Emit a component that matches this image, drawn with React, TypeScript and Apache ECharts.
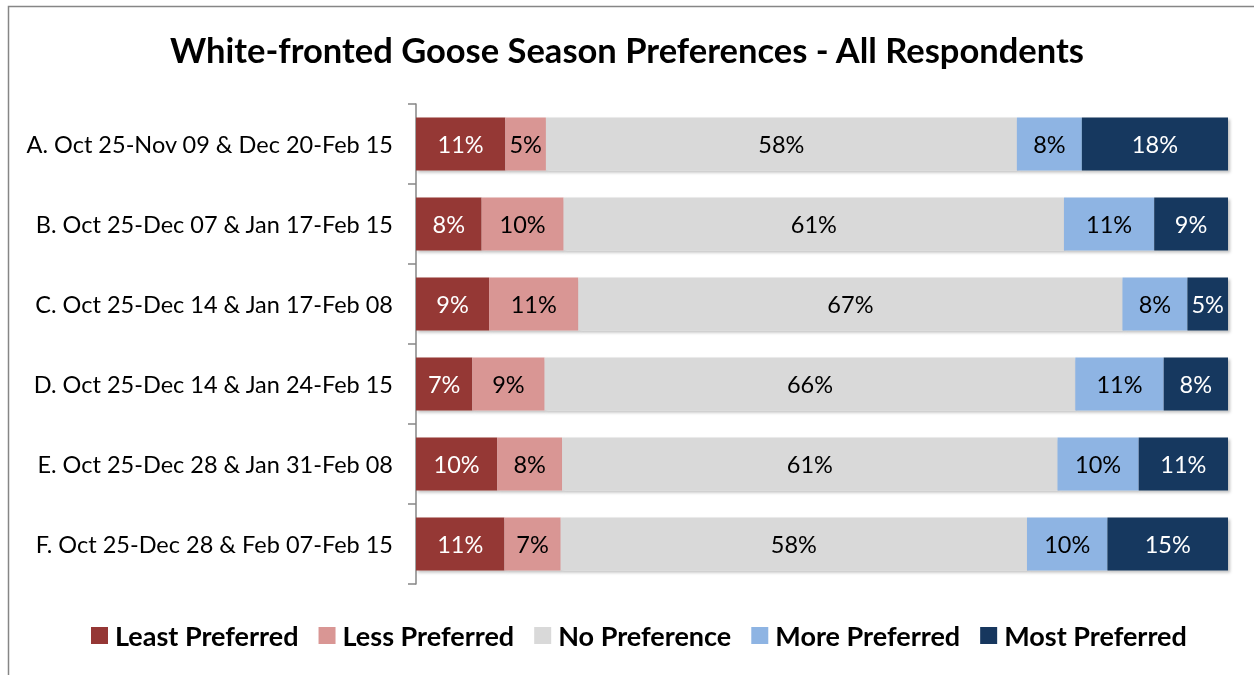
import React, { useEffect, useRef } from "react";
import * as echarts from "echarts";

const categories = [
  "A. Oct 25-Nov 09 & Dec 20-Feb 15",
  "B. Oct 25-Dec 07 & Jan 17-Feb 15",
  "C. Oct 25-Dec 14 & Jan 17-Feb 08",
  "D. Oct 25-Dec 14 & Jan 24-Feb 15",
  "E. Oct 25-Dec 28 & Jan 31-Feb 08",
  "F. Oct 25-Dec 28 & Feb 07-Feb 15",
];
const seriesNames = ["Least Preferred", "Less Preferred", "No Preference", "More Preferred", "Most Preferred"];
const leastPreferred = [11, 8, 9, 7, 10, 11];
const lessPreferred = [5, 10, 11, 9, 8, 7];
const noPreference = [58, 61, 67, 66, 61, 58];
const morePreferred = [8, 11, 8, 11, 10, 10];
const mostPreferred = [18, 9, 5, 8, 11, 15];
const colors = ["#953735", "#D99694", "#D9D9D9", "#8EB4E3", "#17375E"];
const labelColors = ["#ffffff", "#000000", "#000000", "#000000", "#ffffff"];

const FONT = "Lato, 'Open Sans', sans-serif";

export default function App() {
  const ref = useRef<HTMLDivElement>(null);
  useEffect(() => {
    if (!ref.current) return;
    const chart = echarts.init(ref.current, undefined, { renderer: "svg" });
    const all = [leastPreferred, lessPreferred, noPreference, morePreferred, mostPreferred];
    const sums = categories.map((_, i) => all.reduce((s, arr) => s + arr[i], 0));
    chart.setOption({
      animation: false,
      textStyle: { fontFamily: FONT },
      title: {
        text: "White-fronted Goose Season Preferences - All Respondents",
        left: "center",
        top: 27,
        textStyle: { fontSize: 34.5, fontWeight: "bold", color: "#000", fontFamily: FONT },
      },
      graphic: [
        {
          type: "rect",
          shape: { x: 8.5, y: 6.5, width: 1260, height: 700 },
          style: { fill: "none", stroke: "#868686", lineWidth: 1.5 },
          silent: true,
        },
      ],
      legend: {
        top: 617,
        left: 86,
        icon: "rect",
        itemWidth: 17,
        itemHeight: 17,
        itemGap: 20,
        data: seriesNames,
        textStyle: { fontSize: 27, fontWeight: "bold", color: "#000", fontFamily: FONT, padding: [0, 0, 0, 2] },
      },
      grid: { left: 416, right: 26, top: 104, bottom: 91, containLabel: false },
      xAxis: { type: "value", min: 0, max: 100, show: false },
      yAxis: {
        type: "category",
        inverse: true,
        data: categories,
        axisLine: { lineStyle: { color: "#868686", width: 1.5 } },
        axisTick: { show: true, length: 8, lineStyle: { color: "#868686", width: 1.5 } },
        axisLabel: { fontSize: 23.5, color: "#000", margin: 23, fontFamily: FONT },
      },
      series: all.map((arr, k) => ({
        name: seriesNames[k],
        type: "bar",
        stack: "total",
        barWidth: 53,
        itemStyle: {
          color: colors[k],
          shadowBlur: 3,
          shadowOffsetX: 2,
          shadowOffsetY: 2,
          shadowColor: "rgba(0,0,0,0.25)",
        },
        label: {
          show: true,
          position: "inside",
          fontSize: 23.5,
          color: labelColors[k],
          fontFamily: FONT,
          formatter: (p: any) => arr[p.dataIndex] + "%",
        },
        data: arr.map((v, i) => (v / sums[i]) * 100),
      })),
    });
    return () => chart.dispose();
  }, []);
  return <div ref={ref} style={{ position: "fixed", left: 0, top: 0, width: 1254, height: 675 }} />;
}
